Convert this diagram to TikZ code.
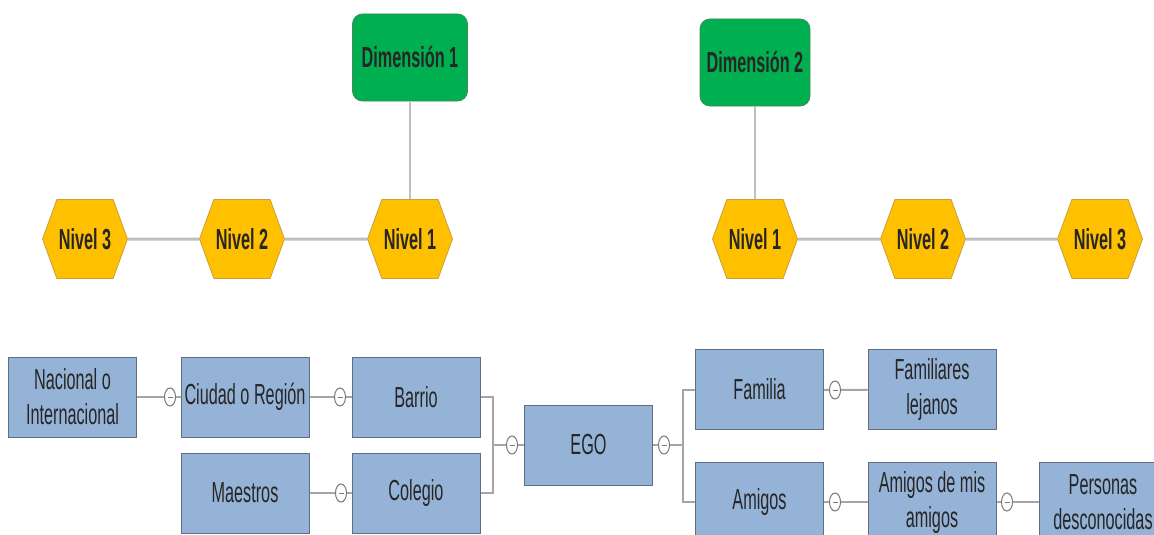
\documentclass[tikz,border=0pt]{standalone}
\usepackage{fontspec}
\setmainfont{Liberation Sans}[FakeStretch=0.56]
\usetikzlibrary{shapes.symbols,shapes.geometric}
\definecolor{dimgreen}{HTML}{00B050}
\definecolor{dimborder}{HTML}{3C8C5A}
\definecolor{hexyellow}{HTML}{FFC000}
\definecolor{hexborder}{HTML}{C8A040}
\definecolor{boxblue}{HTML}{95B3D7}
\definecolor{boxborder}{HTML}{5E6E84}
\definecolor{toplink}{HTML}{C0C0C0}
\definecolor{botlink}{HTML}{A5A5A5}
\definecolor{knobline}{HTML}{7A7A7A}
\definecolor{txt}{HTML}{262626}
\begin{document}
\begin{tikzpicture}[x=1pt,y=-1pt,
  every node/.style={font=\fontsize{29}{35}\selectfont, text=txt},
  dimbox/.style={draw=dimborder, fill=dimgreen, rounded corners=10pt, minimum height=87pt, inner sep=0pt, line width=0.8pt, font=\fontsize{29}{35}\selectfont\bfseries},
  hexa/.style={signal, signal to=east and west, signal pointer angle=140, fill=hexyellow, draw=hexborder, minimum width=85pt, minimum height=79pt, inner sep=0pt, line width=0.8pt, font=\fontsize{29}{35}\selectfont\bfseries},
  leafbox/.style={draw=boxborder, fill=boxblue, minimum width=128pt, minimum height=80pt, inner sep=0pt, align=center, line width=1pt},
  knob/.style={ellipse, draw=knobline, fill=white, minimum width=11pt, minimum height=18pt, inner sep=0pt, line width=1pt,
    path picture={\draw[knobline, line width=1pt] ([xshift=-2.5pt]path picture bounding box.center) -- ([xshift=2.5pt]path picture bounding box.center);}},
  hlink/.style={draw=toplink, line width=3pt},
  vlink/.style={draw=toplink, line width=1.8pt},
  blink/.style={draw=botlink, line width=2pt}
]
\useasboundingbox (0,0) rectangle (1154,535);

% top part
\node[dimbox, minimum width=115pt] (d1) at (410,57.5) {Dimensión 1};
\node[dimbox, minimum width=110pt] (d2) at (755,62.5) {Dimensión 2};

\node[hexa] (l3) at (85,239) {Nivel 3};
\node[hexa] (l2) at (242,239) {Nivel 2};
\node[hexa] (l1) at (410,239) {Nivel 1};
\node[hexa] (r1) at (755,239) {Nivel 1};
\node[hexa] (r2) at (923,239) {Nivel 2};
\node[hexa] (r3) at (1100,239) {Nivel 3};

\draw[vlink] (d1) -- (l1);
\draw[vlink] (d2) -- (r1);
\draw[hlink] (l3) -- (l2);
\draw[hlink] (l2) -- (l1);
\draw[hlink] (r1) -- (r2);
\draw[hlink] (r2) -- (r3);

% bottom part
\node[leafbox] (nac) at (72.5,397) {Nacional o\\Internacional};
\node[leafbox] (ciu) at (245,397) {Ciudad o Región};
\node[leafbox] (bar) at (416,397) {Barrio};
\node[leafbox] (mae) at (245,493) {Maestros};
\node[leafbox] (col) at (416,493) {Colegio};
\node[leafbox] (ego) at (588.5,445) {EGO};
\node[leafbox] (fam) at (759.5,389.5) {Familia};
\node[leafbox] (fal) at (932,389.5) {Familiares\\lejanos};
\node[leafbox] (ami) at (759.5,502) {Amigos};
\node[leafbox] (ama) at (932,502) {Amigos de mis\\amigos};
\node[leafbox] (per) at (1103,502) {Personas\\desconocidas};

\node[knob] (k1) at (170,397) {};
\node[knob] (k2) at (340,397) {};
\node[knob] (k3) at (341,493) {};
\node[knob] (k4) at (512,445) {};
\node[knob] (k5) at (664,445) {};
\node[knob] (k6) at (835,390) {};
\node[knob] (k7) at (835,502) {};
\node[knob] (k8) at (1007,502) {};

\coordinate (jl) at (493,445);
\coordinate (jr) at (683,445);

\draw[blink] (nac) -- (k1) -- (ciu);
\draw[blink] (ciu) -- (k2) -- (bar);
\draw[blink] (mae) -- (k3) -- (col);
\draw[blink] (bar.east) -| (jl) |- (col.east);
\draw[blink] (jl) -- (k4) -- (ego);
\draw[blink] (ego) -- (k5) -- (jr);
\draw[blink] (fam.west) -| (jr) |- (ami.west);
\draw[blink] (fam) -- (k6) -- (fal);
\draw[blink] (ami) -- (k7) -- (ama);
\draw[blink] (ama) -- (k8) -- (per);
\end{tikzpicture}
\end{document}
